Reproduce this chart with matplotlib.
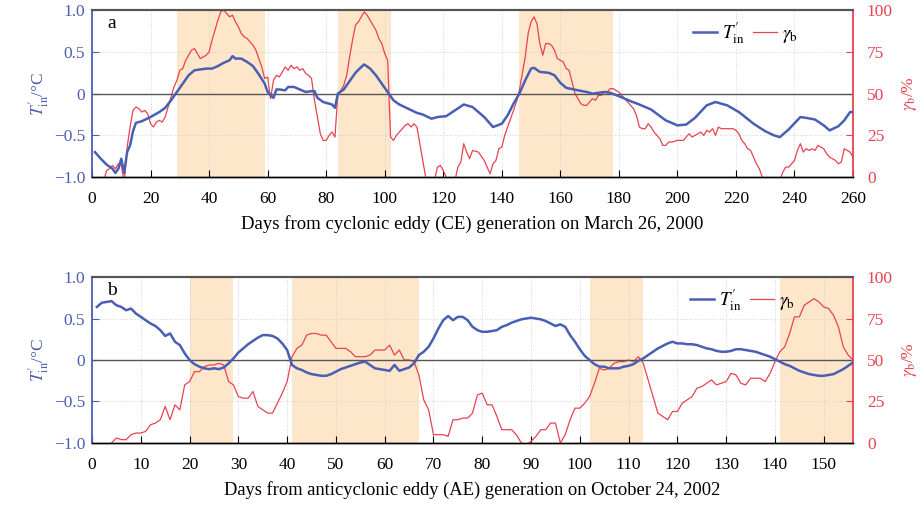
import matplotlib
matplotlib.use("Agg")
import matplotlib.pyplot as plt
from matplotlib.lines import Line2D

plt.rcParams["font.family"] = ["Liberation Serif", "DejaVu Serif"]
plt.rcParams["mathtext.fontset"] = "stix"

# ---- panel a: cyclonic eddy ----
a_t_day = [1, 3, 5, 7, 8, 9, 10, 11, 12, 13, 14, 15, 17, 20, 23, 25, 27, 29, 31, 33,
           35, 37, 39, 41, 43, 45, 47, 48, 49, 51, 53, 55, 57, 59, 60, 61, 62, 63, 64, 66,
           67, 69, 71, 73, 75, 76, 77, 79, 81, 82, 83, 84, 86, 88, 90, 92, 93, 95, 97, 99,
           101, 103, 105, 108, 111, 113, 116, 118, 121, 124, 127, 130, 134, 137, 140, 142, 144, 146, 148, 150,
           151, 153, 156, 158, 160, 162, 166, 169, 171, 175, 177, 180, 184, 187, 191, 196, 200, 203, 206, 210,
           213, 217, 221, 226, 230, 233, 235, 238, 242, 244, 247, 250, 252, 255, 257, 259, 260]
a_t_val = [-0.70, -0.78, -0.85, -0.90, -0.95, -0.90, -0.78, -0.95, -0.70, -0.62, -0.45, -0.35, -0.33, -0.28, -0.22, -0.17, -0.08, 0.02, 0.12, 0.22,
           0.28, 0.29, 0.30, 0.30, 0.33, 0.37, 0.40, 0.45, 0.42, 0.42, 0.38, 0.33, 0.23, 0.12, 0.02, -0.02, -0.05, 0.05, 0.05, 0.04,
           0.08, 0.08, 0.05, 0.02, 0.03, 0.03, -0.05, -0.10, -0.12, -0.13, -0.17, 0.00, 0.05, 0.15, 0.25, 0.32, 0.35, 0.30, 0.22, 0.12,
           0.02, -0.08, -0.13, -0.18, -0.23, -0.25, -0.30, -0.28, -0.27, -0.20, -0.13, -0.16, -0.28, -0.40, -0.36, -0.26, -0.12, 0.00, 0.16, 0.30,
           0.31, 0.26, 0.25, 0.22, 0.13, 0.07, 0.04, 0.02, 0.00, 0.02, 0.01, -0.03, -0.09, -0.13, -0.19, -0.32, -0.38, -0.37, -0.29, -0.14,
           -0.10, -0.14, -0.22, -0.36, -0.45, -0.50, -0.52, -0.43, -0.28, -0.29, -0.31, -0.38, -0.44, -0.39, -0.32, -0.22, -0.22]

a_g_day = list(range(4, 122)) + [
    122, 124, 125, 126, 127, 128, 129, 130, 132, 134, 136, 137, 138, 139, 140, 141, 142, 143, 144, 145,
    146, 147, 148, 149, 150, 151, 152, 153, 154, 155, 156, 157, 158, 159, 160, 161, 162, 163, 164, 165,
    166, 167, 168, 169, 170, 171, 172, 173, 174, 175, 176, 177, 178, 179, 180, 181, 182, 183, 184, 185,
    186, 187, 188, 189, 190, 191, 192, 193, 194, 195, 196, 197, 198, 200, 202, 203, 204, 205, 206, 207,
    208, 209, 210, 211, 212, 213, 214, 215, 217, 219, 220, 221, 222, 223, 224, 225, 226, 227, 228, 229,
    230, 234, 235, 236, 237, 238, 239, 240, 241, 242, 243, 244, 245, 246, 247, 248, 249, 250, 251, 252,
    253, 254, 255, 256, 257, 258, 259, 260]
a_g_val = [-2, 4, 5, 7, 5, 8, 7, -3, 18, 30, 40, 42, 41, 39, 40, 38, 32, 30, 33, 34,
           33, 36, 42, 48, 54, 58, 64, 65, 70, 73, 76, 77, 74, 71, 72, 73, 75, 82, 88, 94,
           99, 100, 98, 96, 97, 93, 90, 86, 84, 83, 81, 79, 76, 71, 66, 59, 60, 47, 58, 61,
           60, 63, 66, 64, 67, 65, 66, 64, 65, 62, 61, 59, 46, 36, 26, 22, 22, 25, 27, 24,
           50, 52, 55, 61, 72, 82, 91, 93, 96, 99, 97, 94, 91, 88, 83, 80, 74, 70, 24, 22,
           25, 27, 29, 31, 32, 30, 32, 30, 20, 10, 0, -5, -5, -2, 6, 7, 4, 0,
           -4, -2, 6, 9, 20, 15, 11, 16, 15, 10, 2, 8, 10, 17, 18, 25, 30, 35, 40, 45,
           52, 62, 72, 86, 93, 96, 92, 80, 73, 80, 80, 79, 76, 71, 70, 69, 65, 64, 57, 50,
           47, 44, 43, 43, 45, 47, 46, 49, 49, 51, 51, 53, 53, 52, 51, 49, 47, 45, 43, 41,
           37, 30, 29, 29, 32, 30, 27, 25, 23, 19, 19, 21, 21, 22, 22, 24, 26, 24, 25, 26,
           27, 25, 28, 27, 29, 25, 30, 29, 29, 29, 28, 26, 22, 20, 17, 16, 12, 8, 5, 0,
           -5, -5, -2, 3, 6, 6, 8, 10, 16, 20, 15, 17, 16, 17, 16, 19, 18, 17, 14, 12,
           11, 10, 8, 9, 17, 16, 15, 12]
a_spans = [(29, 59), (84, 102), (146, 178)]

# ---- panel b: anticyclonic eddy ----
b_t_day = list(range(1, 157))
b_t_val = [0.64, 0.69, 0.70, 0.71, 0.66, 0.64, 0.60, 0.62, 0.56, 0.52,
           0.48, 0.44, 0.41, 0.36, 0.29, 0.32, 0.22, 0.18, 0.08, 0.00,
           -0.05, -0.08, -0.10, -0.11, -0.10, -0.11, -0.09, -0.04, 0.02, 0.09,
           0.14, 0.19, 0.23, 0.27, 0.30, 0.30, 0.29, 0.26, 0.20, 0.12,
           -0.06, -0.10, -0.12, -0.15, -0.17, -0.18, -0.19, -0.19, -0.17, -0.14,
           -0.11, -0.09, -0.07, -0.05, -0.03, -0.02, -0.06, -0.10, -0.11, -0.12,
           -0.13, -0.06, -0.13, -0.11, -0.09, -0.04, 0.06, 0.10, 0.16, 0.26,
           0.38, 0.48, 0.53, 0.48, 0.52, 0.52, 0.48, 0.40, 0.36, 0.34,
           0.34, 0.35, 0.36, 0.40, 0.42, 0.45, 0.47, 0.49, 0.50, 0.51,
           0.50, 0.49, 0.47, 0.44, 0.41, 0.43, 0.40, 0.30, 0.22, 0.13,
           0.05, 0.00, -0.05, -0.08, -0.08, -0.10, -0.10, -0.10, -0.08, -0.07,
           -0.05, -0.01, 0.02, 0.06, 0.10, 0.14, 0.17, 0.20, 0.22, 0.20,
           0.20, 0.19, 0.19, 0.18, 0.16, 0.14, 0.13, 0.11, 0.10, 0.10,
           0.11, 0.13, 0.13, 0.12, 0.11, 0.10, 0.08, 0.06, 0.04, 0.01,
           -0.02, -0.05, -0.07, -0.10, -0.13, -0.15, -0.17, -0.18, -0.19, -0.19,
           -0.18, -0.17, -0.14, -0.11, -0.07, -0.03]

b_g_day = list(range(4, 157))
b_g_val = [0, 3, 2, 2, 5, 6, 6, 7, 11, 12,
           14, 22, 14, 23, 20, 35, 37, 43, 43, 46,
           47, 47, 48, 47, 37, 35, 28, 27, 27, 31,
           22, 20, 18, 18, 24, 30, 37, 52, 57, 59,
           65, 66, 66, 65, 65, 61, 57, 57, 57, 55,
           52, 52, 52, 53, 56, 56, 56, 59, 53, 56,
           50, 50, 49, 41, 26, 20, 5, 5, 5, 4,
           14, 14, 15, 15, 18, 29, 30, 23, 23, 16,
           8, 8, 8, 5, 0, -1, 1, 4, 8, 8,
           12, 12, 0, 5, 14, 21, 21, 24, 28, 36,
           45, 44, 45, 48, 49, 49, 50, 49, 52, 48,
           38, 28, 18, 16, 14, 19, 19, 24, 26, 28,
           33, 34, 36, 38, 35, 36, 37, 42, 41, 36,
           35, 39, 39, 39, 37, 42, 49, 55, 58, 66,
           76, 76, 83, 85, 87, 85, 82, 81, 77, 70,
           58, 53, 50]
b_spans = [(20, 29), (41, 67), (102, 113), (141, 156)]

BLUE = "#4a5fb4"
RED = "#e84250"
SHADE = "#fde6ca"
T_LABEL = r"$T^{\prime}_{\rm in}$"


def panel(rect, t_day, t_val, g_day, g_val, spans, xmax, xstep, letter, xlabel, xl_size, leg_x):
    ax2 = fig.add_axes(rect)
    ax = ax2.twinx()
    # ax (on top) carries the left axis, ax2 (below) the right one
    ax.yaxis.tick_left()
    ax.yaxis.set_label_position("left")
    ax2.yaxis.tick_right()
    ax2.yaxis.set_label_position("right")

    for s0, s1 in spans:
        ax2.axvspan(s0, s1, color=SHADE, lw=0, zorder=0)
    ax2.plot(g_day, g_val, color=RED, lw=0.9, zorder=3)
    ax2.set_ylim(0, 100)
    ax2.set_yticks([0, 25, 50, 75, 100])
    ax2.set_xlim(0, xmax)
    ax2.set_xticks(range(0, xmax + 1, xstep))
    ax2.grid(True, color="#c8c8c8", ls=(0, (1, 2)), lw=0.6, zorder=1)
    ax2.tick_params(axis="y", colors=RED, direction="in", length=5, labelsize=12.5, pad=10)
    ax2.tick_params(axis="x", colors="black", direction="in", length=5, labelsize=12.5, pad=10)
    ax2.set_ylabel(r"$\gamma_{\rm b}$/%", color=RED, fontsize=12.5, labelpad=5, rotation=90)

    ax.axhline(0, color="#555555", lw=1.0, zorder=2)
    ax.plot(t_day, t_val, color=BLUE, lw=1.8, zorder=4)
    ax.set_ylim(-1, 1)
    ax.set_yticks([-1, -0.5, 0, 0.5, 1])
    ax.set_yticklabels(["\u22121.0", "\u22120.5", "0", "0.5", "1.0"])
    ax.tick_params(axis="y", colors=BLUE, direction="in", length=5, labelsize=12.5, pad=5)
    ax.set_ylabel(T_LABEL + "/°C", color=BLUE, fontsize=12.5, labelpad=2)

    for a in (ax, ax2):
        a.spines["top"].set_color("#555555")
        a.spines["top"].set_linewidth(1.5)
        a.spines["bottom"].set_color("black")
        a.spines["bottom"].set_linewidth(1.0)
    ax.spines["left"].set_color(BLUE)
    ax.spines["left"].set_linewidth(1.3)
    ax.spines["right"].set_color(RED)
    ax.spines["right"].set_linewidth(1.3)
    ax2.spines["left"].set_visible(False)
    ax2.spines["right"].set_visible(False)

    ax.text(0.02, 0.92, letter, transform=ax.transAxes, fontsize=14, va="center", ha="left")
    ax2.set_xlabel(xlabel, fontsize=xl_size, labelpad=6)

    handles = [Line2D([], [], color=BLUE, lw=1.8), Line2D([], [], color=RED, lw=0.9)]
    ax.legend(handles, [T_LABEL, r"$\gamma_{\rm b}$"], loc="center left",
              bbox_to_anchor=(leg_x, 0.86), ncol=2, frameon=False, fontsize=13.5,
              handlelength=1.3, handletextpad=0.25, columnspacing=0.45, borderaxespad=0)
    return ax, ax2


fig = plt.figure(figsize=(9.22, 5.09), dpi=100)

panel([0.0998, 0.652, 0.8254, 0.328], a_t_day, a_t_val, a_g_day, a_g_val, a_spans, 260, 20,
      "a", "Days from cyclonic eddy (CE) generation on March 26, 2000", 13.5, 0.78)
panel([0.0998, 0.1297, 0.8254, 0.326], b_t_day, b_t_val, b_g_day, b_g_val, b_spans, 156, 10,
      "b", "Days from anticyclonic eddy (AE) generation on October 24, 2002", 13.3, 0.776)

fig.savefig("out.png", dpi=100)
